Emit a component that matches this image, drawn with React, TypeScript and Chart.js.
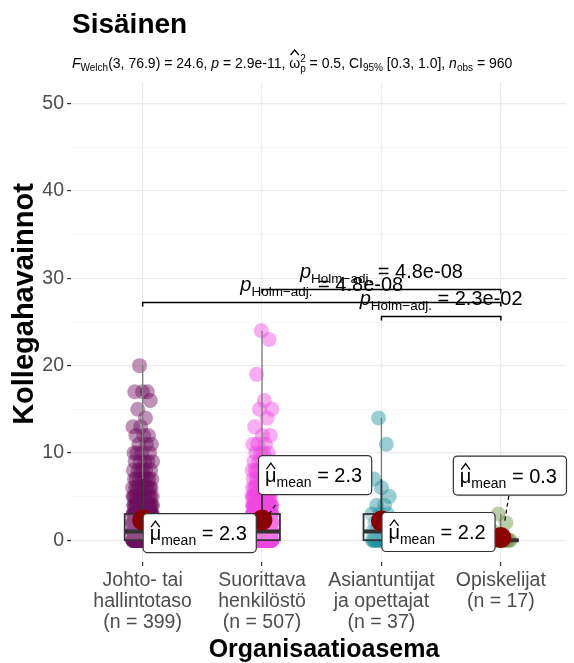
import React, { useEffect, useRef } from 'react';
import { Chart, registerables } from 'chart.js';

Chart.register(...registerables);

// ---------- DATA ----------
const categoryLabels: string[][] = [
  ['Johto- tai', 'hallintotaso', '(n = 399)'],
  ['Suorittava', 'henkilöstö', '(n = 507)'],
  ['Asiantuntijat', 'ja opettajat', '(n = 37)'],
  ['Opiskelijat', '(n = 17)'],
];
const groupColors = [
  'rgba(110, 15, 95, 0.45)',
  'rgba(240, 70, 225, 0.45)',
  'rgba(31, 147, 159, 0.45)',
  'rgba(103, 147, 65, 0.45)',
];
// observed value levels and how many observations sit at each level
const g1Levels = [0, 1, 2, 3, 4, 5, 6, 7, 8, 9, 10, 11, 12, 13, 14, 15, 16, 17, 20];
const g1Counts = [118, 95, 60, 40, 22, 15, 11, 8, 6, 5, 4, 3, 3, 2, 1, 1, 1, 3, 1];
const g2Levels = [0, 1, 2, 3, 4, 5, 6, 7, 8, 9, 10, 11, 12, 13, 14, 15, 16, 19, 23, 24];
const g2Counts = [140, 125, 82, 58, 30, 20, 14, 9, 7, 5, 4, 3, 2, 1, 1, 2, 1, 1, 1, 1];
const g3Levels = [0, 1, 2, 3, 4, 5, 6, 7, 11, 14];
const g3Counts = [15, 7, 5, 3, 2, 1, 1, 1, 1, 1];
const g4Levels = [0, 1, 2, 3];
const g4Counts = [14, 1, 1, 1];

const means = [2.3, 2.3, 2.2, 0.3];
const meanLabels = ['2.3', '2.3', '2.2', '0.3'];
const boxQ1 = [0, 0, 0, 0];
const boxMedian = [1, 1, 1, 0];
const boxQ3 = [3, 3, 3, 0];
const whiskerHigh = [7, 7, 7, 0];

const pairFrom = [1, 2, 3];
const pairTo = [4, 4, 4];
const pairY = [27.3, 28.8, 25.7];
const pairP = ['4.8e-08', '4.8e-08', '2.3e-02'];

const yTickValues = [0, 5, 10, 15, 20, 25, 30, 35, 40, 45, 50];

const titleText = 'Sisäinen';
const xTitle = 'Organisaatioasema';
const yTitle = 'Kollegahavainnot';

// ---------- HELPERS ----------
const FAM = "'Liberation Sans', Arial, sans-serif";
const fnt = (size: number, bold = false, italic = false) =>
  `${italic ? 'italic ' : ''}${bold ? 'bold ' : ''}${size}px ${FAM}`;

type Part = { t: string; size: number; italic?: boolean; dy?: number; hat?: number[]; noAdvance?: boolean };

function drawParts(ctx: CanvasRenderingContext2D, x: number, y: number, parts: Part[], draw = true) {
  let cx = x;
  for (const p of parts) {
    ctx.font = fnt(p.size, false, !!p.italic);
    const w = ctx.measureText(p.t).width;
    if (draw) {
      ctx.fillText(p.t, cx, y + (p.dy || 0));
      if (p.hat) {
        const [endOff, peakOff] = p.hat;
        ctx.save();
        ctx.lineWidth = 1.3;
        ctx.beginPath();
        ctx.moveTo(cx + w * 0.12, y - endOff);
        ctx.lineTo(cx + w * 0.5, y - peakOff);
        ctx.lineTo(cx + w * 0.88, y - endOff);
        ctx.stroke();
        ctx.restore();
      }
    }
    if (!p.noAdvance) cx += w;
  }
  return cx - x;
}

function expand(levels: number[], counts: number[], g: number) {
  const pts: { x: number; y: number }[] = [];
  let k = 0;
  levels.forEach((v, i) => {
    for (let c = 0; c < counts[i]; c++) {
      const frac = (k * 0.6180339887 + g * 0.37) % 1;
      pts.push({ x: g + (frac - 0.5) * 0.17, y: v });
      k++;
    }
  });
  return pts;
}

const groups = [
  { levels: g1Levels, counts: g1Counts },
  { levels: g2Levels, counts: g2Counts },
  { levels: g3Levels, counts: g3Counts },
  { levels: g4Levels, counts: g4Counts },
];

// label placement relative to the mean point (pixels)
const labelOffset = [
  [0, -7],
  [-4, -65],
  [0, -9],
  [-48, -82],
];
const connectors: (number[] | null)[] = [null, [7, -6, 14, -16], null, [4, -17, 8, -42]];

const overlay = {
  id: 'overlay',
  afterDatasetsDraw(chart: any) {
    const { ctx, scales } = chart;
    const xs = scales.x;
    const ys = scales.y;
    ctx.save();
    groups.forEach((gr, i) => {
      const cx = xs.getPixelForValue(i + 1);
      const vmax = Math.max(...gr.levels);
      const vmin = Math.min(...gr.levels);
      // violin (very thin)
      ctx.strokeStyle = '#7a7a7a';
      ctx.lineWidth = 1.3;
      ctx.beginPath();
      ctx.moveTo(cx, ys.getPixelForValue(vmin));
      ctx.lineTo(cx, ys.getPixelForValue(vmax));
      ctx.stroke();
      // whisker
      ctx.strokeStyle = '#333';
      ctx.lineWidth = 1.8;
      if (whiskerHigh[i] > boxQ3[i]) {
        ctx.beginPath();
        ctx.moveTo(cx, ys.getPixelForValue(boxQ3[i]));
        ctx.lineTo(cx, ys.getPixelForValue(whiskerHigh[i]));
        ctx.stroke();
      }
      // box
      const hw = xs.getPixelForValue(i + 1 + 0.15) - cx;
      const top = ys.getPixelForValue(boxQ3[i]);
      const bot = ys.getPixelForValue(boxQ1[i]);
      ctx.fillStyle = 'rgba(255,255,255,0.25)';
      ctx.fillRect(cx - hw, top, hw * 2, bot - top);
      ctx.strokeRect(cx - hw, top, hw * 2, bot - top);
      ctx.lineWidth = 4;
      ctx.beginPath();
      const my = ys.getPixelForValue(boxMedian[i]);
      ctx.moveTo(cx - hw, my);
      ctx.lineTo(cx + hw, my);
      ctx.stroke();
    });
    // means
    means.forEach((m, i) => {
      const cx = xs.getPixelForValue(i + 1);
      const cy = ys.getPixelForValue(m);
      ctx.fillStyle = '#8b0000';
      ctx.beginPath();
      ctx.arc(cx, cy, 10.5, 0, Math.PI * 2);
      ctx.fill();
    });
    // connectors + labels
    means.forEach((m, i) => {
      const cx = xs.getPixelForValue(i + 1);
      const cy = ys.getPixelForValue(m);
      const c = connectors[i];
      if (c) {
        ctx.save();
        ctx.strokeStyle = '#000';
        ctx.lineWidth = 1.2;
        ctx.setLineDash([4, 3]);
        ctx.beginPath();
        ctx.moveTo(cx + c[0], cy + c[1]);
        ctx.lineTo(cx + c[2], cy + c[3]);
        ctx.stroke();
        ctx.restore();
      }
      const parts: Part[] = [
        { t: 'μ', size: 20, hat: [13, 19] },
        { t: 'mean', size: 14, dy: 5 },
        { t: ' = ' + meanLabels[i], size: 20 },
      ];
      const tw = drawParts(ctx, 0, 0, parts, false);
      const lx = cx + labelOffset[i][0];
      const ly = cy + labelOffset[i][1];
      const bw = tw + 16;
      const bh = 39;
      ctx.fillStyle = '#fff';
      ctx.strokeStyle = '#333';
      ctx.lineWidth = 1.2;
      ctx.beginPath();
      ctx.roundRect(lx + 0.5, ly + 0.5, bw, bh, 4);
      ctx.fill();
      ctx.stroke();
      ctx.fillStyle = '#000';
      ctx.strokeStyle = '#000';
      ctx.textBaseline = 'alphabetic';
      ctx.textAlign = 'left';
      drawParts(ctx, lx + 7, ly + 27, parts, true);
    });
    // brackets
    pairFrom.forEach((a, i) => {
      const x1 = xs.getPixelForValue(a);
      const x2 = xs.getPixelForValue(pairTo[i]);
      const yy = Math.round(ys.getPixelForValue(pairY[i])) + 0.5;
      ctx.strokeStyle = '#000';
      ctx.lineWidth = 1.5;
      ctx.beginPath();
      ctx.moveTo(x1, yy + 4);
      ctx.lineTo(x1, yy);
      ctx.lineTo(x2, yy);
      ctx.lineTo(x2, yy + 4);
      ctx.stroke();
      const parts: Part[] = [
        { t: 'p', size: 20, italic: true },
        { t: 'Holm−adj.', size: 13.5, dy: 5 },
        { t: ' = ' + pairP[i], size: 20 },
      ];
      const tw = drawParts(ctx, 0, 0, parts, false);
      ctx.fillStyle = '#000';
      ctx.textAlign = 'left';
      ctx.textBaseline = 'alphabetic';
      drawParts(ctx, (x1 + x2) / 2 - tw / 2, yy - 12, parts, true);
    });
    ctx.restore();
  },
  afterDraw(chart: any) {
    const { ctx } = chart;
    ctx.save();
    ctx.fillStyle = '#000';
    ctx.strokeStyle = '#000';
    ctx.textAlign = 'left';
    ctx.textBaseline = 'alphabetic';
    ctx.font = fnt(28, true);
    ctx.fillText(titleText, 72, 33);
    const s = 14;
    const ss = 10;
    const sub: Part[] = [
      { t: 'F', size: s, italic: true },
      { t: 'Welch', size: ss, dy: 3 },
      { t: '(3, 76.9) = 24.6, ', size: s },
      { t: 'p', size: s, italic: true },
      { t: ' = 2.9e-11, ', size: s },
      { t: 'ω', size: s, hat: [13, 18] },
      { t: '2', size: ss, dy: -6, noAdvance: true },
      { t: 'p', size: ss, dy: 4 },
      { t: ' = 0.5, CI', size: s },
      { t: '95%', size: ss, dy: 3 },
      { t: ' [0.3, 1.0], ', size: s },
      { t: 'n', size: s, italic: true },
      { t: 'obs', size: ss, dy: 3 },
      { t: ' = 960', size: s },
    ];
    drawParts(ctx, 72, 68, sub, true);
    // axis titles
    ctx.textAlign = 'center';
    ctx.font = fnt(25, true);
    ctx.fillText(xTitle, 324, 657);
    ctx.font = fnt(29, true);
    ctx.translate(33, 304);
    ctx.rotate(-Math.PI / 2);
    ctx.fillText(yTitle, 0, 0);
    ctx.restore();
  },
};

export default function App() {
  const ref = useRef<HTMLCanvasElement>(null);
  useEffect(() => {
    document.body.style.margin = '0';
    document.body.style.overflow = 'hidden';
    const canvas = ref.current!;
    const chart = new Chart(canvas, {
      type: 'scatter',
      data: {
        datasets: groups.map((gr, i) => ({
          data: expand(gr.levels, gr.counts, i + 1),
          backgroundColor: groupColors[i],
          borderWidth: 0,
          pointRadius: 7.5,
          pointHoverRadius: 7.5,
        })),
      },
      options: {
        animation: false,
        responsive: false,
        events: [],
        layout: { padding: { top: 82, right: 5, left: 0, bottom: 0 } },
        plugins: { legend: { display: false }, tooltip: { enabled: false }, title: { display: false } },
        scales: {
          x: {
            type: 'linear',
            min: 0.4,
            max: 4.55,
            afterBuildTicks: (s: any) => {
              s.ticks = categoryLabels.map((_, i) => ({ value: i + 1 }));
            },
            afterFit: (s: any) => {
              s.height = 101;
            },
            border: { display: false },
            grid: { color: '#ebebeb', lineWidth: 1.2, tickLength: 4, tickColor: '#333' },
            ticks: {
              autoSkip: false,
              maxRotation: 0,
              padding: 4,
              color: '#4d4d4d',
              font: { family: FAM, size: 19.5, lineHeight: 1.08 },
              callback: (v: any) => categoryLabels[Math.round(v) - 1] || '',
            },
          },
          y: {
            type: 'linear',
            min: -2.5,
            max: 52.5,
            afterBuildTicks: (s: any) => {
              s.ticks = yTickValues.map((v) => ({ value: v }));
            },
            afterFit: (s: any) => {
              s.width = 71;
            },
            border: { display: false },
            grid: {
              color: (c: any) => (c.tick && c.tick.value % 10 === 0 ? '#ebebeb' : '#f4f4f4'),
              lineWidth: (c: any) => (c.tick && c.tick.value % 10 === 0 ? 1.2 : 0.8),
              tickLength: 4,
              tickColor: (c: any) => (c.tick && c.tick.value % 10 === 0 ? '#333' : 'rgba(0,0,0,0)'),
            },
            ticks: {
              padding: 3,
              color: '#4d4d4d',
              font: { family: FAM, size: 19.5 },
              callback: (v: any) => (v % 10 === 0 ? String(v) : ''),
            },
          },
        },
      },
      plugins: [overlay],
    } as any);
    return () => chart.destroy();
  }, []);
  return (
    <div style={{ width: 574, height: 663 }}>
      <canvas ref={ref} width={574} height={663} style={{ display: 'block', width: 574, height: 663 }} />
    </div>
  );
}
